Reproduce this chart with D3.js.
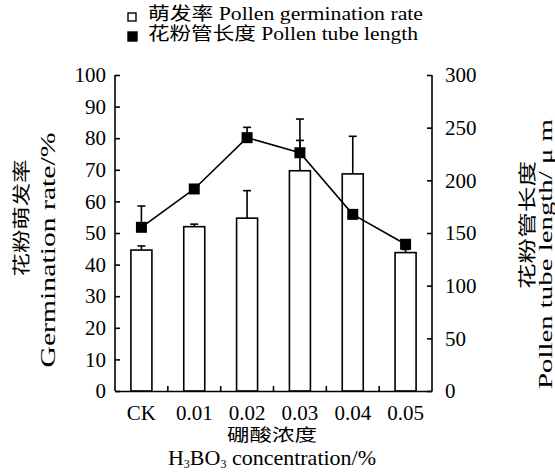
<!DOCTYPE html>
<html><head><meta charset="utf-8">
<script src="https://cdn.jsdelivr.net/npm/d3@7"></script>
<style>
html,body{margin:0;padding:0;background:#fff;}
svg text{font-family:"Liberation Serif","Noto Sans CJK SC",serif;fill:#000;}
</style></head>
<body><svg id="c" width="555" height="474"></svg>
<script>
const categories = ["CK","0.01","0.02","0.03","0.04","0.05"];
const germinationRate = [44.6, 52.0, 54.7, 69.7, 68.7, 43.8];
const germinationErr  = [1.3, 0.8, 8.7, 9.6, 11.9, 1.0];
const tubeLength = [155.4, 191.8, 240.5, 226.2, 167.7, 139.3];
const tubeErr    = [20.2, 0, 9.8, 32.0, 0, 0];
const leftTicks = [0,10,20,30,40,50,60,70,80,90,100];
const rightTicks = [0,50,100,150,200,250,300];

const svg = d3.select("#c");
const m = {l:115, r:432, t:75, b:391};

const x = d3.scaleBand().domain(categories).range([m.l, m.r]).paddingInner(0).paddingOuter(0);
const yL = d3.scaleLinear().domain([0,100]).range([m.b, m.t]);
const yR = d3.scaleLinear().domain([0,300]).range([m.b, m.t]);
const barW = 21;

// bars
svg.append("g").selectAll("rect").data(categories).join("rect")
  .attr("x", d => x(d) + x.bandwidth()/2 - barW/2)
  .attr("y", (d,i) => yL(germinationRate[i]))
  .attr("width", barW)
  .attr("height", (d,i) => yL(0) - yL(germinationRate[i]))
  .attr("fill","#fff").attr("stroke","#000").attr("stroke-width",1.6);

// bar error bars
const be = svg.append("g").attr("stroke","#000").attr("stroke-width",1.6);
categories.forEach((c,i) => {
  if (!germinationErr[i]) return;
  const cx = x(c) + x.bandwidth()/2;
  const y0 = yL(germinationRate[i]), y1 = yL(germinationRate[i] + germinationErr[i]);
  be.append("line").attr("x1",cx).attr("x2",cx).attr("y1",y0).attr("y2",y1);
  be.append("line").attr("x1",cx-4).attr("x2",cx+4).attr("y1",y1).attr("y2",y1);
});

// line error bars
const le = svg.append("g").attr("stroke","#000").attr("stroke-width",1.6);
categories.forEach((c,i) => {
  if (!tubeErr[i]) return;
  const cx = x(c) + x.bandwidth()/2;
  const y0 = yR(tubeLength[i]), y1 = yR(tubeLength[i] + tubeErr[i]);
  le.append("line").attr("x1",cx).attr("x2",cx).attr("y1",y0).attr("y2",y1);
  le.append("line").attr("x1",cx-4).attr("x2",cx+4).attr("y1",y1).attr("y2",y1);
});

// line
const line = d3.line().x((d,i) => x(categories[i]) + x.bandwidth()/2).y(d => yR(d));
svg.append("path").datum(tubeLength).attr("d", line)
  .attr("fill","none").attr("stroke","#000").attr("stroke-width",1.6);
const ms = 11;
svg.append("g").selectAll("rect").data(tubeLength).join("rect")
  .attr("x",(d,i) => x(categories[i]) + x.bandwidth()/2 - ms/2)
  .attr("y", d => yR(d) - ms/2)
  .attr("width", ms).attr("height", ms).attr("fill","#000");

// axes
const axL = d3.axisLeft(yL).tickValues(leftTicks).tickSize(-5).tickPadding(9).tickFormat(d3.format("d"));
const gL = svg.append("g").attr("transform",`translate(${m.l},0)`).call(axL);
const axR = d3.axisRight(yR).tickValues(rightTicks).tickSize(-5).tickPadding(13).tickFormat(d3.format("d"));
const gR = svg.append("g").attr("transform",`translate(${m.r},0)`).call(axR);
const axB = d3.axisBottom(x).tickSize(0).tickPadding(14);
const gB = svg.append("g").attr("transform",`translate(0,${m.b})`).call(axB);
// boundary ticks on bottom axis
svg.append("g").selectAll("line").data(categories.slice(1)).join("line")
  .attr("x1", d => x(d)).attr("x2", d => x(d))
  .attr("y1", m.b).attr("y2", m.b - 5).attr("stroke","#000").attr("stroke-width",1.6);

[gL,gR,gB].forEach(g => {
  g.select(".domain").attr("stroke","#000").attr("stroke-width",1.6);
  g.selectAll(".tick line").attr("stroke","#000").attr("stroke-width",1.6);
  g.selectAll(".tick text").attr("font-size",21).attr("font-family","Liberation Serif");
});
gL.select(".domain").attr("d", `M0,${m.t}V${m.b}`);
gR.select(".domain").attr("d", `M0,${m.t}V${m.b}`);

// axis titles
svg.append("text").attr("transform","translate(22,218) rotate(-90)")
  .attr("text-anchor","middle").attr("dominant-baseline","central")
  .attr("font-size",18).attr("textLength",117).attr("lengthAdjust","spacingAndGlyphs")
  .text("花粉萌发率");
svg.append("text").attr("transform","translate(48,250) rotate(-90)")
  .attr("text-anchor","middle").attr("dominant-baseline","central")
  .attr("font-size",20).attr("textLength",235).attr("lengthAdjust","spacingAndGlyphs")
  .text("Germination rate/%");
svg.append("text").attr("transform","translate(528,225) rotate(-90)")
  .attr("text-anchor","middle").attr("dominant-baseline","central")
  .attr("font-size",18).attr("textLength",128).attr("lengthAdjust","spacingAndGlyphs")
  .text("花粉管长度");
svg.append("text").attr("transform","translate(545,254) rotate(-90)")
  .attr("text-anchor","middle").attr("dominant-baseline","central")
  .attr("font-size",19).attr("textLength",270).attr("lengthAdjust","spacingAndGlyphs")
  .text("Pollen tube length/ μ m");

svg.append("text").attr("x",272).attr("y",441).attr("text-anchor","middle")
  .attr("font-size",17).attr("textLength",90).attr("lengthAdjust","spacingAndGlyphs")
  .text("硼酸浓度");
const xt = svg.append("text").attr("x",272).attr("y",465).attr("text-anchor","middle").attr("font-size",22);
xt.append("tspan").text("H");
xt.append("tspan").attr("font-size",12).attr("dy",3).text("3");
xt.append("tspan").attr("dy",-3).text("BO");
xt.append("tspan").attr("font-size",12).attr("dy",3).text("3");
xt.append("tspan").attr("dy",-3).text(" concentration/%");

// legend
const legendNames = ["萌发率 Pollen germination rate", "花粉管长度 Pollen tube length"];
const legendFills = ["#fff", "#000"];
const legendLens = [275, 270];
const lg = svg.append("g");
legendNames.forEach((name,i) => {
  const yb = 20 + i*20;
  lg.append("rect").attr("x",128).attr("y",yb-7 - i).attr("width", 8+i).attr("height", 8+i)
    .attr("fill",legendFills[i]).attr("stroke","#000").attr("stroke-width",1.4);
  lg.append("text").attr("x",148).attr("y",yb).attr("font-size",18)
    .attr("textLength",legendLens[i]).attr("lengthAdjust","spacingAndGlyphs").text(name);
});
</script></body></html>
